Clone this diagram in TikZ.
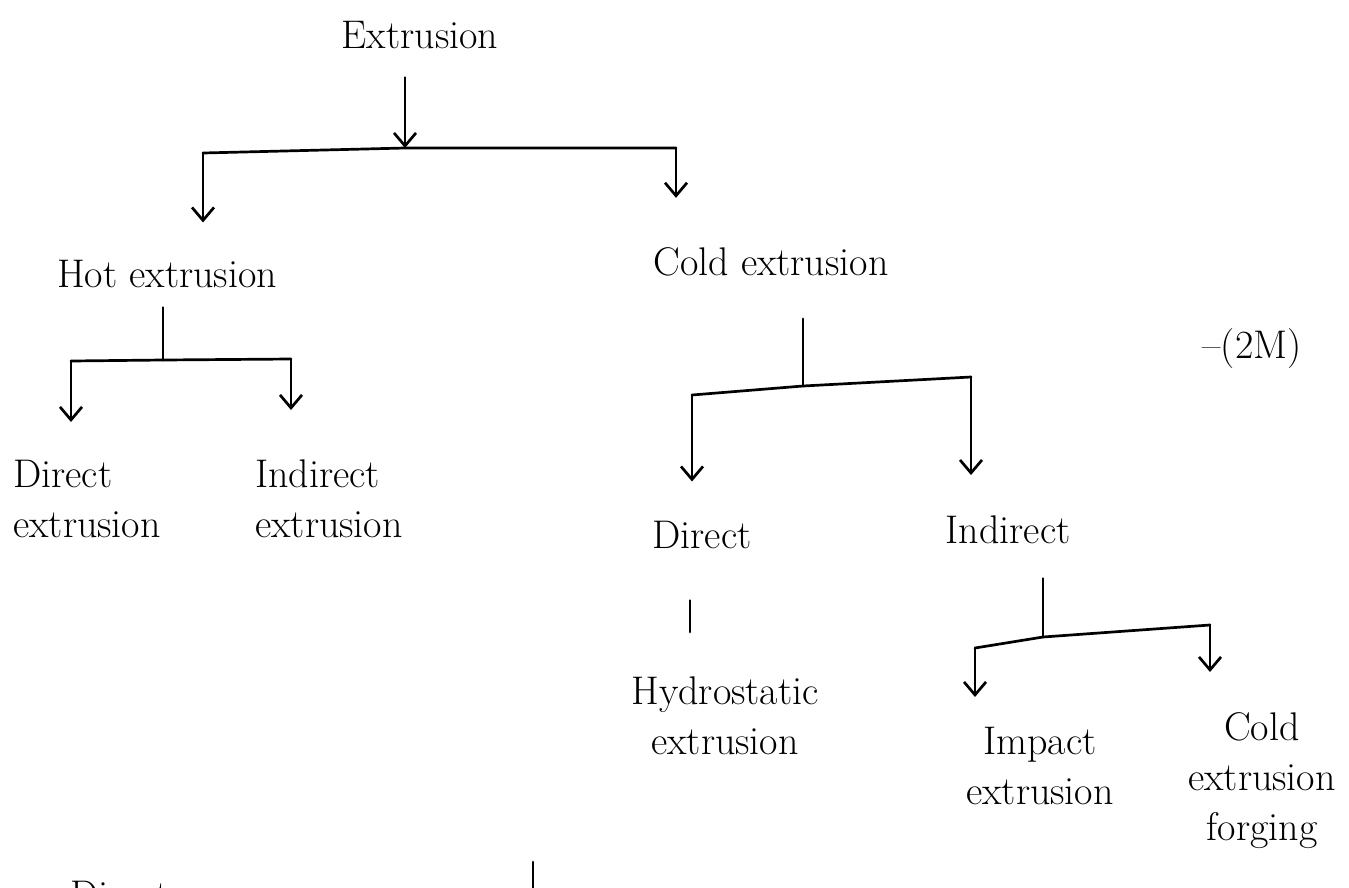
\documentclass[tikz,border=0pt]{standalone}
\usepackage{fontspec}
\usetikzlibrary{arrows.meta}
\begin{document}
\begin{tikzpicture}[x=1pt,y=-1pt,
  txt/.style={inner sep=0pt,font=\fontsize{40}{50}\selectfont},
  ln/.style={line width=2.7pt,line cap=round,line join=round},
  arr/.style={ln,-{Straight Barb[length=13pt,width=22pt]}}]
\fill[white] (0,0) rectangle (1349,887);
\useasboundingbox (0,0) rectangle (1349,887);
% texts
\node[txt,anchor=base] (ext) at (420,48) {Extrusion};
\node[txt,anchor=base] (hot) at (167,287) {Hot extrusion};
\node[txt,anchor=base] (cold) at (771,275) {Cold extrusion};
\node[txt,anchor=north west,align=left] (hdir) at (13,460) {Direct\\extrusion};
\node[txt,anchor=north west,align=left] (hind) at (255,460) {Indirect\\extrusion};
\node[txt,anchor=base] (cdir) at (702,548) {Direct};
\node[txt,anchor=base] (cind) at (1008,543) {Indirect};
\node[txt,anchor=north,align=center] (hyd) at (725,677) {Hydrostatic\\extrusion};
\node[txt,anchor=north,align=center] (imp) at (1040,727) {Impact\\extrusion};
\node[txt,anchor=north,align=center] (cef) at (1262,712) {Cold\\extrusion\\forging};
\node[txt,anchor=base] (mark) at (1252,358) {--(2M)};
\node[txt,anchor=base west] (bot) at (70,908) {Direct};
% level 1
\coordinate (j0) at (405,148);
\coordinate (b0l) at (203,153);
\coordinate (b0r) at (676,148);
\draw[ln] (b0l) -- (j0) -- (b0r);
\draw[arr,shorten <=29pt] (ext.south -| j0) -- (j0);
\draw[arr,shorten >=37pt] (b0l) -- (b0l |- hot.north);
\draw[arr,shorten >=49pt] (b0r) -- (b0r |- cold.north);
% hot
\coordinate (j1) at (163,360);
\coordinate (b1l) at (71,361);
\coordinate (b1r) at (291,359);
\draw[ln,shorten <=20pt] (hot.south -| j1) -- (j1);
\draw[ln] (b1l) -- (j1) -- (b1r);
\draw[arr,shorten >=38pt] (b1l) -- (b1l |- hdir.north);
\draw[arr,shorten >=50pt] (b1r) -- (b1r |- hind.north);
% cold
\coordinate (j2) at (803,386);
\coordinate (b2l) at (692,395);
\coordinate (b2r) at (971,377);
\draw[ln,shorten <=43pt] (cold.south -| j2) -- (j2);
\draw[ln] (b2l) -- (j2) -- (b2r);
\draw[arr,shorten >=39pt] (b2l) -- (b2l |- cdir.north);
\draw[arr,shorten >=40pt] (b2r) -- (b2r |- cind.north);
% direct -> hydrostatic
\coordinate (hx) at (690,600);
\draw[ln,shorten <=52pt,shorten >=45pt] (cdir.south -| hx) -- (hyd.north -| hx);
% indirect
\coordinate (j3) at (1043,637);
\coordinate (b3l) at (975,648);
\coordinate (b3r) at (1210,625);
\draw[ln,shorten <=35pt] (cind.south -| j3) -- (j3);
\draw[ln] (b3l) -- (j3) -- (b3r);
\draw[arr,shorten >=30pt] (b3l) -- (b3l |- imp.north);
\draw[arr,shorten >=40pt] (b3r) -- (b3r |- cef.north);
% bottom partial line
\coordinate (botline) at (533,862);
\draw[ln] (botline) -- ++(0,40);
\end{tikzpicture}
\end{document}
